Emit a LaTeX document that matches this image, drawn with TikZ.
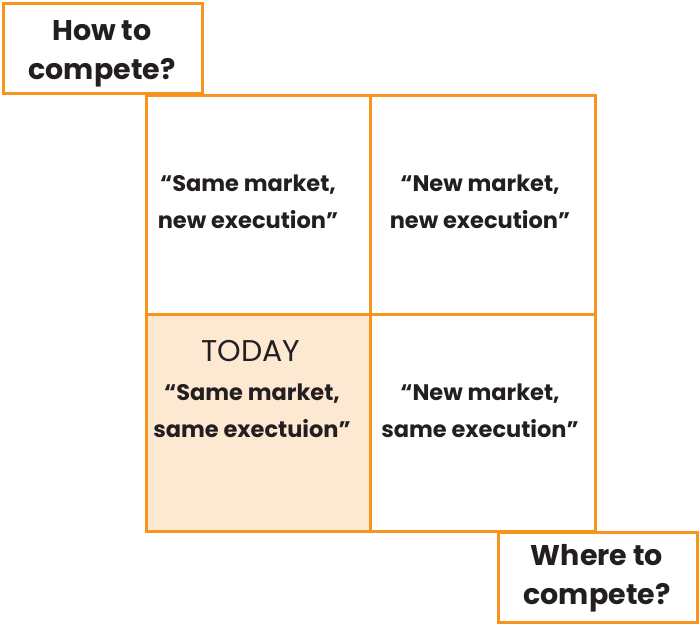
\documentclass[tikz,border=0pt]{standalone}
\usepackage{fontspec}
\setmainfont{Poppins}
\definecolor{org}{HTML}{F7941D}
\definecolor{peach}{HTML}{FDE8D1}
\definecolor{txt}{HTML}{231F20}
\begin{document}
\begin{tikzpicture}[x=1pt,y=-1pt,
  cellbox/.style={draw=org,line width=3pt},
  celltxt/.style={align=center,text=txt,font=\fontsize{22.5}{37}\selectfont\bfseries},
  labbox/.style={draw=org,line width=3pt,fill=white,minimum width=199pt,minimum height=90pt,inner sep=0},
  labtxt/.style={align=center,text=txt,font=\fontsize{28.5}{39}\selectfont\bfseries}]
\useasboundingbox (0,0) rectangle (700,624);
\fill[peach] (145,313) rectangle (369,530);
\node[cellbox,minimum width=224pt,minimum height=219pt,anchor=north west,inner sep=0] (tl) at (145,94) {};
\node[cellbox,minimum width=225pt,minimum height=219pt,anchor=north west,inner sep=0] (tr) at (369,94) {};
\node[cellbox,minimum width=224pt,minimum height=217pt,anchor=north west,inner sep=0] (bl) at (145,313) {};
\node[cellbox,minimum width=225pt,minimum height=217pt,anchor=north west,inner sep=0] (br) at (369,313) {};
\node[celltxt] (ttl) at (248,202) {“Same market,\\new execution”};
\node[celltxt] (ttr) at (480,202) {“New market,\\new execution”};
\node[celltxt,font=\fontsize{30}{34}\selectfont] (today) at (251,351) {TODAY};
\node[celltxt] (tbl) at (252,411) {“Same market,\\same exectuion”};
\node[celltxt] (tbr) at (480,411) {“New market,\\same execution”};
\node[labbox,anchor=north west] (how) at (2,2) {};
\node[labtxt] (howt) at (102,54) {How to\\compete?};
\node[labbox,anchor=north west] (where) at (497,531) {};
\node[labtxt] (wheret) at (597,578) {Where to\\compete?};
\end{tikzpicture}
\end{document}
